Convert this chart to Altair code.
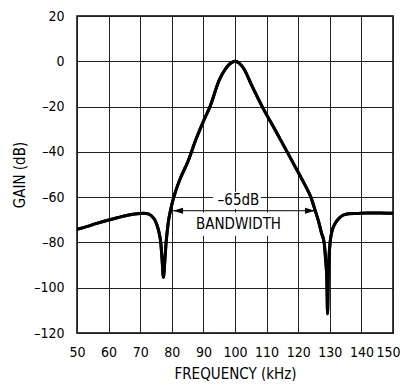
import altair as alt
import pandas as pd

# Filter response
freq = [50, 53, 56, 60, 63, 66, 69, 71, 72.5, 73.5, 74.5, 75.3, 76.0, 76.5, 76.9, 77.35,
        77.8, 78.2, 78.6, 79.0, 79.5, 80.1, 81.3, 82.5, 85.3, 87.5, 90.0, 92.1, 95.0,
        97.1, 98.6, 100.0, 101.4, 102.8, 105.4, 108.6, 112.5, 116.5, 120.5, 122.3, 124.0,
        125.4, 126.5, 127.4, 128.2, 128.7, 129.05, 129.3, 129.5, 129.7,
        130.1, 130.7, 131.7, 133.0, 134.3, 136.0, 138.5, 142.0, 146.0, 150.0]
gain = [-74.2, -73.0, -71.7, -70.1, -69.0, -68.0, -67.3, -67.1, -67.4, -68.2, -69.8, -72.3,
        -75.8, -80.0, -87.0, -95.4, -88.0, -80.0, -74.5, -70.1, -66.5, -62.7, -57.0, -52.4,
        -43.6, -35.0, -26.5, -20.0, -8.3, -3.1, -0.9, 0.0, -0.9, -3.3, -11.0, -20.0, -29.8,
        -40.0, -50.3, -55.0, -60.0, -66.0, -71.0, -76.0, -80.0, -88.0, -96.0,
        -111.5, -96.0, -88.0, -80.0, -75.0, -71.6, -69.2, -67.9, -67.3, -67.2, -67.0,
        -67.0, -67.1]

# Annotation
ann_text = ["\u201365dB", "BANDWIDTH"]
ann_freq = [101.1, 101.1]
ann_gain = [-61.4, -71.7]
box_f1 = [93.0, 87.5]
box_f2 = [108.2, 114.6]
box_g1 = [-57.6, -66.8]
box_g2 = [-65.2, -77.0]
arrow_left = [80.4]
arrow_right = [125.3]
arrow_gain = [-66.0]

x_ticks = list(range(50, 151, 10))
y_ticks = list(range(-120, 21, 20))

FONT = "DejaVu Sans Condensed, Liberation Sans, sans-serif"
FS = 15
LFS = 14

curve = pd.DataFrame({"f": freq, "g": gain})
ann = pd.DataFrame({"t": ann_text, "f": ann_freq, "g": ann_gain})
boxes = pd.DataFrame({"f1": box_f1, "f2": box_f2, "g1": box_g1, "g2": box_g2})
arrow = pd.DataFrame({"f1": arrow_left, "f2": arrow_right, "g": arrow_gain})

xs = alt.Scale(domain=[50, 150], nice=False, zero=False)
ys = alt.Scale(domain=[-120, 20], nice=False, zero=False)

xaxis = alt.Axis(values=x_ticks, title="FREQUENCY (kHz)", ticks=False,
                 labelPadding=12, labelFlush=False, labelOverlap=False, grid=True,
                 titlePadding=7,
                 labelOffset={"condition": {"test": "datum.value == 150", "value": -5}, "value": 0})
yaxis = alt.Axis(values=y_ticks, title="GAIN (dB)", ticks=False,
                 labelPadding=13, labelFlush=False, labelOverlap=False, grid=True,
                 titlePadding=6,
                 labelExpr="datum.value < 0 ? '\u2013' + (-datum.value) : datum.label")

base_line = alt.Chart(curve).mark_line(color="black", strokeWidth=3, interpolate="monotone").encode(
    x=alt.X("f:Q", scale=xs, axis=xaxis),
    y=alt.Y("g:Q", scale=ys, axis=yaxis),
)

box_layer = alt.Chart(boxes).mark_rect(color="white", opacity=1).encode(
    x=alt.X("f1:Q", scale=xs, axis=xaxis), x2="f2:Q",
    y=alt.Y("g1:Q", scale=ys, axis=yaxis), y2="g2:Q",
)

text_layer = alt.Chart(ann).mark_text(font=FONT, fontSize=FS, color="black", baseline="middle",
                                      align="center").encode(
    x=alt.X("f:Q", scale=xs, axis=xaxis),
    y=alt.Y("g:Q", scale=ys, axis=yaxis),
    text="t:N",
)

arrow_rule = alt.Chart(arrow).mark_rule(color="black", strokeWidth=1).encode(
    x=alt.X("f1:Q", scale=xs, axis=xaxis), x2="f2:Q",
    y=alt.Y("g:Q", scale=ys, axis=yaxis),
)

head_l = alt.Chart(arrow).mark_point(shape="M0,0L2,-0.6L2,0.6Z", filled=True, size=100,
                                     color="black", opacity=1, strokeWidth=0).encode(
    x=alt.X("f1:Q", scale=xs, axis=xaxis),
    y=alt.Y("g:Q", scale=ys, axis=yaxis),
)
head_r = alt.Chart(arrow).mark_point(shape="M0,0L-2,-0.6L-2,0.6Z", filled=True, size=100,
                                     color="black", opacity=1, strokeWidth=0).encode(
    x=alt.X("f2:Q", scale=xs, axis=xaxis),
    y=alt.Y("g:Q", scale=ys, axis=yaxis),
)

chart = alt.layer(base_line, box_layer, arrow_rule, head_l, head_r, text_layer, base_line).properties(
    width=316, height=317,
    background="white",
    autosize=alt.AutoSizeParams(type="none"),
    padding={"left": 69, "top": 8, "right": 8, "bottom": 48},
).configure_view(
    stroke="black", strokeWidth=1.5
).configure_axis(
    gridColor="#222", gridWidth=1, gridOpacity=1, domain=False,
    labelFont=FONT, labelFontSize=LFS, labelColor="black",
    titleFont=FONT, titleFontSize=FS, titleColor="black", titleFontWeight="normal",
)

chart.save("out.html", embed_options={"renderer": "svg", "actions": False})
